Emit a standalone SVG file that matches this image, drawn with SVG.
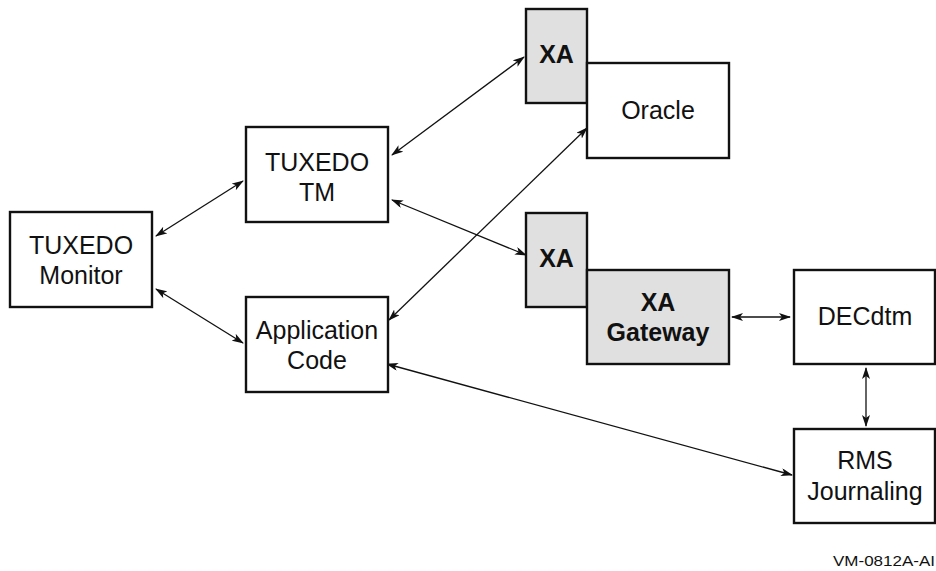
<svg xmlns="http://www.w3.org/2000/svg" width="936" height="571" viewBox="0 0 936 571">
<defs>
<style>
.box{fill:#fff;stroke:#111;stroke-width:2.4}
.gray{fill:#e0e0e0;stroke:#111;stroke-width:2.4}
.t{font-family:"Liberation Sans",Arial,sans-serif;font-size:25px;fill:#111;text-anchor:middle}
.b{font-weight:bold}
.c{stroke:#111;stroke-width:1.3;fill:none;marker-start:url(#a);marker-end:url(#a)}
</style>
<marker id="a" viewBox="0 0 12 8" refX="11" refY="4" markerWidth="12" markerHeight="8" markerUnits="userSpaceOnUse" orient="auto-start-reverse">
<path d="M0,0 L12,4 L0,8 L3,4 Z" fill="#111"/>
</marker>
</defs>
<rect width="936" height="571" fill="#fff"/>
<g id="connectors">
<line class="c" x1="156" y1="236" x2="243" y2="181"/>
<line class="c" x1="156" y1="289" x2="243" y2="343"/>
<line class="c" x1="392" y1="155" x2="524" y2="57"/>
<line class="c" x1="392" y1="200" x2="526" y2="255"/>
<line class="c" x1="389" y1="320" x2="587" y2="128"/>
<line class="c" x1="387" y1="364" x2="792" y2="475"/>
<line class="c" x1="732" y1="317" x2="790" y2="317"/>
<line class="c" x1="866" y1="368" x2="866" y2="426"/>
</g>
<g id="tuxedo-monitor">
<rect class="box" x="10" y="212" width="142" height="95"/>
<text class="t" x="81" y="254">TUXEDO</text>
<text class="t" x="81" y="284">Monitor</text>
</g>
<g id="tuxedo-tm">
<rect class="box" x="246" y="127" width="142" height="95"/>
<text class="t" x="317" y="171">TUXEDO</text>
<text class="t" x="317" y="201">TM</text>
</g>
<g id="application-code">
<rect class="box" x="246" y="297" width="142" height="95"/>
<text class="t" x="317" y="339">Application</text>
<text class="t" x="317" y="369">Code</text>
</g>
<g id="xa-oracle">
<rect class="gray" x="526" y="9" width="61" height="94"/>
<text class="t b" x="556.5" y="63">XA</text>
</g>
<g id="oracle">
<rect class="box" x="587" y="63" width="142" height="95"/>
<text class="t" x="658" y="119">Oracle</text>
</g>
<g id="xa-gateway-xa">
<rect class="gray" x="526" y="213" width="61" height="94"/>
<text class="t b" x="556.5" y="267">XA</text>
</g>
<g id="xa-gateway">
<rect class="gray" x="587" y="270" width="142" height="94"/>
<text class="t b" x="658" y="311">XA</text>
<text class="t b" x="658" y="341">Gateway</text>
</g>
<g id="decdtm">
<rect class="box" x="794" y="270" width="141" height="94"/>
<text class="t" x="865" y="325">DECdtm</text>
</g>
<g id="rms-journaling">
<rect class="box" x="794" y="429" width="141" height="94"/>
<text class="t" x="865" y="469">RMS</text>
<text class="t" x="865" y="500">Journaling</text>
</g>
<text x="935" y="566" font-family="'Liberation Sans',Arial,sans-serif" font-size="14" fill="#111" text-anchor="end" textLength="102" lengthAdjust="spacingAndGlyphs">VM-0812A-AI</text>
</svg>
